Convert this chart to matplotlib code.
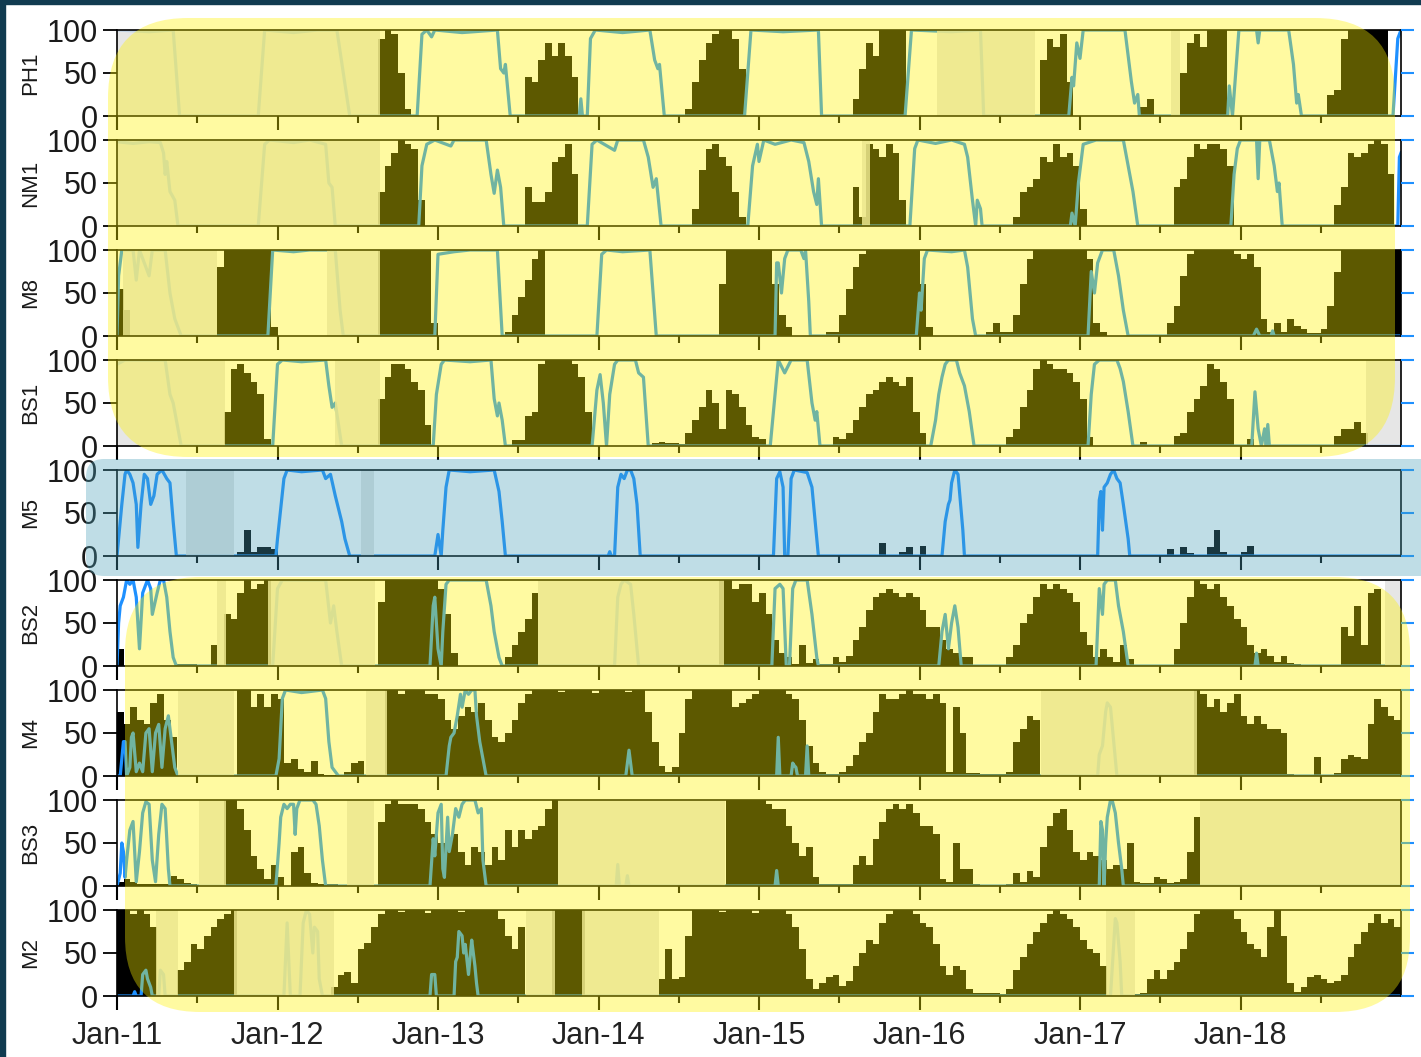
import numpy as np
import matplotlib
matplotlib.use("Agg")
import matplotlib.pyplot as plt
import matplotlib.transforms as mtransforms
from matplotlib.patches import FancyBboxPatch, Rectangle

plt.rcParams['font.family'] = ['Liberation Sans', 'DejaVu Sans']

# ---------------------------------------------------------------- data
# bars: half-month bins starting Jan 2011 (bin i covers 2011 + i/24 .. +1/24),
# stored as (first_bin, values) runs; everything else is zero
# lines: (decimal year, value) breakpoints
# gaps: (start, end) in decimal years
PANELS = ["PH1", "NM1", "M8", "BS1", "M5", "BS2", "M4", "BS3", "M2"]
YEARS = [2011, 2012, 2013, 2014, 2015, 2016, 2017, 2018]
XLABELS = ["Jan-11", "Jan-12", "Jan-13", "Jan-14", "Jan-15", "Jan-16", "Jan-17", "Jan-18"]
YTICKS = [0, 50, 100]

PH1_BARS = [(39, [90, 100, 95, 50, 8]),
            (61, [45, 40, 65, 85, 70, 85, 70, 45]),
            (85, [8, 40, 65, 85, 95, 100, 100, 90, 55]),
            (110, [20, 55, 85, 70, 100, 100, 100, 100]),
            (138, [65, 90, 80, 95, 40]),
            (153, [10, 20]),
            (159, [50, 85, 95, 80, 100, 100, 100]),
            (181, [25, 30, 90, 100, 100, 100, 100, 100, 100])]
PH1_LINE = [(2011.0, 100), (2011.2, 98), (2011.35, 100), (2011.39, 0), (2011.88, 0), (2011.92, 100),
            (2012.1, 97), (2012.25, 100), (2012.37, 100), (2012.41, 50), (2012.45, 0),
            (2012.87, 0), (2012.9, 95), (2012.93, 100), (2012.96, 92), (2012.98, 100), (2013.15, 97),
            (2013.37, 100), (2013.39, 55), (2013.41, 50), (2013.42, 60), (2013.44, 20), (2013.45, 0),
            (2013.88, 0), (2013.89, 20), (2013.9, 0), (2013.93, 0), (2013.95, 90), (2013.98, 100),
            (2014.15, 97), (2014.32, 100), (2014.35, 65), (2014.37, 55), (2014.38, 60), (2014.41, 0),
            (2014.91, 0), (2014.95, 100), (2015.15, 98), (2015.37, 100), (2015.39, 0),
            (2015.91, 0), (2015.95, 100), (2016.2, 98), (2016.38, 100), (2016.4, 0),
            (2016.93, 0), (2016.95, 45), (2016.96, 35), (2016.98, 85), (2017.0, 67), (2017.02, 100),
            (2017.28, 100), (2017.3, 70), (2017.32, 40), (2017.34, 15), (2017.36, 25), (2017.37, 0),
            (2017.92, 0), (2017.93, 35), (2017.95, 0), (2017.97, 50), (2017.99, 100), (2018.1, 100),
            (2018.11, 85), (2018.12, 100), (2018.3, 100), (2018.33, 60), (2018.35, 15), (2018.36, 25),
            (2018.38, 0), (2018.95, 0), (2018.98, 90), (2019.0, 100)]
PH1_GAPS = [(2011.0, 2012.64), (2016.11, 2016.72), (2017.57, 2017.62)]

NM1_BARS = [(39, [40, 70, 85, 100, 95, 90, 30]),
            (61, [45, 28, 28, 40, 75, 80, 95, 60]),
            (86, [20, 65, 90, 95, 80, 70, 40, 10]),
            (110, [45, 10, 95, 90, 80, 95, 85, 30]),
            (134, [10, 40, 45, 55, 80, 75, 95, 80, 85, 70, 20]),
            (158, [45, 55, 80, 95, 90, 95, 95, 90, 70]),
            (182, [25, 45, 85, 80, 85, 95, 100, 95, 60])]
NM1_LINE = [(2011.0, 98), (2011.1, 96), (2011.2, 98), (2011.27, 97), (2011.29, 85), (2011.3, 60),
            (2011.31, 75), (2011.33, 40), (2011.36, 30), (2011.38, 0),
            (2011.88, 0), (2011.92, 95), (2011.95, 100), (2012.1, 97), (2012.2, 100), (2012.3, 95),
            (2012.32, 50), (2012.34, 45), (2012.36, 0),
            (2012.88, 0), (2012.9, 70), (2012.93, 95), (2012.98, 100), (2013.08, 93), (2013.1, 100),
            (2013.3, 100), (2013.33, 60), (2013.35, 38), (2013.37, 65), (2013.39, 45), (2013.41, 0),
            (2013.93, 0), (2013.96, 95), (2013.99, 100), (2014.1, 88), (2014.12, 100), (2014.28, 100),
            (2014.31, 80), (2014.34, 45), (2014.36, 55), (2014.39, 0),
            (2014.93, 0), (2014.96, 70), (2014.99, 95), (2015.0, 75), (2015.03, 100), (2015.1, 95),
            (2015.2, 100), (2015.28, 97), (2015.31, 75), (2015.34, 40), (2015.36, 25), (2015.37, 55),
            (2015.39, 0),
            (2015.94, 0), (2015.97, 90), (2015.99, 100), (2016.1, 96), (2016.2, 100), (2016.28, 95),
            (2016.3, 80), (2016.33, 30), (2016.35, 0), (2016.36, 30), (2016.38, 20), (2016.39, 0),
            (2016.94, 0), (2016.95, 15), (2016.97, 0), (2016.99, 50), (2017.02, 95), (2017.1, 100),
            (2017.27, 100), (2017.3, 70), (2017.33, 40), (2017.36, 0),
            (2017.94, 0), (2017.96, 60), (2017.98, 90), (2018.0, 100), (2018.1, 100), (2018.11, 55),
            (2018.12, 100), (2018.18, 100), (2018.21, 70), (2018.23, 40), (2018.24, 50), (2018.26, 0),
            (2018.98, 0), (2018.99, 80), (2019.0, 85)]
NM1_GAPS = [(2011.0, 2012.64), (2015.64, 2015.69)]

M8_BARS = [(0, [55, 30]),
           (15, [80, 100, 100, 100, 100, 100, 100, 100, 10]),
           (39, [100, 100, 100, 100, 100, 100, 100, 100, 15]),
           (58, [5, 25, 45, 65, 90, 100]),
           (90, [60, 100, 100, 100, 100, 100, 100, 100, 60, 25, 10]),
           (106, [5, 5, 25, 55, 80, 95, 100, 100, 100, 100, 100, 100, 100, 100, 60, 10]),
           (130, [5, 15, 5, 5, 25, 60, 90, 100, 100, 100, 100, 100, 100, 100, 100, 90, 15, 5]),
           (157, [15, 35, 70, 95, 100, 100, 100, 100, 100, 100, 95, 90, 95, 80, 20]),
           (172, [5, 15, 5, 20, 12, 8, 3, 3]),
           (180, [8, 35, 75, 100, 100, 100, 100, 100, 100, 100, 100, 100])]
M8_LINE = [(2011.0, 0), (2011.01, 70), (2011.03, 100), (2011.1, 100), (2011.12, 65), (2011.14, 100),
           (2011.2, 70), (2011.22, 100), (2011.3, 100), (2011.33, 50), (2011.36, 20), (2011.4, 0),
           (2011.94, 0), (2011.97, 100), (2012.1, 98), (2012.2, 100), (2012.36, 100), (2012.39, 30),
           (2012.41, 0),
           (2012.98, 0), (2013.0, 95), (2013.1, 98), (2013.2, 100), (2013.37, 100), (2013.4, 0),
           (2013.99, 0), (2014.02, 95), (2014.05, 100), (2014.15, 98), (2014.32, 100), (2014.34, 50),
           (2014.35, 25), (2014.36, 0),
           (2015.1, 0), (2015.11, 85), (2015.12, 85), (2015.14, 50), (2015.16, 90), (2015.18, 100),
           (2015.26, 100), (2015.28, 90), (2015.29, 100), (2015.31, 40), (2015.32, 0),
           (2015.98, 0), (2016.0, 50), (2016.01, 30), (2016.03, 90), (2016.05, 100), (2016.2, 98),
           (2016.28, 100), (2016.3, 80), (2016.33, 20), (2016.35, 0),
           (2017.05, 0), (2017.07, 75), (2017.09, 50), (2017.11, 85), (2017.14, 100), (2017.21, 100),
           (2017.24, 70), (2017.27, 30), (2017.3, 0),
           (2018.08, 0), (2018.1, 8), (2018.12, 0), (2018.19, 0), (2018.2, 6), (2018.21, 0),
           (2019.0, 0)]
M8_GAPS = [(2011.04, 2011.62), (2012.31, 2012.64)]

BS1_BARS = [(16, [40, 90, 95, 85, 75, 60, 8]),
            (39, [55, 80, 95, 95, 90, 75, 65, 25]),
            (59, [7, 7, 35, 40, 95, 100, 100, 100, 100, 95, 80, 40]),
            (80, [3, 5, 3, 3, 2, 15, 30, 45, 65, 50, 20, 65, 60, 45, 25, 10, 8]),
            (107, [10, 8, 15, 30, 45, 60, 65, 75, 80, 75, 70, 80, 40, 15]),
            (133, [10, 20, 45, 65, 90, 100, 95, 90, 90, 85, 75, 55, 10]),
            (153, [5, 0, 0, 1, 0, 12, 15, 40, 55, 70, 95, 90, 75, 55]),
            (169, [8]),
            (182, [12, 20, 20, 28, 15])]
BS1_LINE = [(2011.0, 95), (2011.05, 100), (2011.3, 100), (2011.33, 60), (2011.35, 50), (2011.37, 30),
            (2011.4, 0),
            (2011.97, 0), (2012.0, 95), (2012.03, 100), (2012.15, 98), (2012.3, 100), (2012.32, 70),
            (2012.34, 45), (2012.36, 50), (2012.38, 25), (2012.4, 0),
            (2012.97, 0), (2012.99, 60), (2013.02, 95), (2013.04, 100), (2013.2, 98), (2013.33, 100),
            (2013.35, 55), (2013.37, 35), (2013.38, 50), (2013.4, 30), (2013.42, 0),
            (2013.96, 0), (2013.99, 65), (2014.01, 83), (2014.03, 50), (2014.05, 0), (2014.07, 60),
            (2014.1, 95), (2014.12, 100), (2014.23, 100), (2014.25, 85), (2014.28, 80), (2014.31, 0),
            (2015.07, 0), (2015.1, 60), (2015.12, 100), (2015.16, 85), (2015.2, 100), (2015.3, 100),
            (2015.33, 50), (2015.35, 30), (2015.36, 40), (2015.38, 0),
            (2016.07, 0), (2016.1, 30), (2016.12, 60), (2016.14, 80), (2016.16, 95), (2016.18, 100),
            (2016.23, 100), (2016.25, 85), (2016.28, 70), (2016.31, 40), (2016.34, 0),
            (2017.05, 0), (2017.07, 60), (2017.09, 95), (2017.12, 100), (2017.23, 100), (2017.25, 90),
            (2017.27, 75), (2017.3, 40), (2017.33, 0),
            (2018.07, 0), (2018.09, 63), (2018.11, 20), (2018.13, 0), (2018.15, 20), (2018.16, 0),
            (2018.17, 25), (2018.18, 0), (2019.0, 0)]
BS1_GAPS = [(2011.0, 2011.67), (2012.36, 2012.64), (2018.78, 2019.0)]

M5_BARS = [(18, [5, 30, 5, 10, 10, 8]),
           (114, [15, 0, 0, 5, 10, 0, 12]),
           (157, [8, 0, 10, 3, 0, 0, 10, 30, 5, 0, 0, 5, 12])]
M5_LINE = [(2011.0, 0), (2011.01, 20), (2011.03, 60), (2011.05, 95), (2011.06, 100), (2011.08, 95),
           (2011.1, 85), (2011.12, 60), (2011.13, 10), (2011.15, 60), (2011.17, 95), (2011.19, 90),
           (2011.21, 60), (2011.23, 70), (2011.25, 95), (2011.28, 100), (2011.31, 90), (2011.33, 85),
           (2011.35, 40), (2011.37, 0),
           (2011.99, 0), (2012.0, 20), (2012.02, 55), (2012.04, 90), (2012.06, 100), (2012.15, 98),
           (2012.28, 100), (2012.3, 90), (2012.33, 95), (2012.36, 70), (2012.4, 40), (2012.42, 20),
           (2012.45, 0),
           (2012.98, 0), (2013.0, 25), (2013.02, 0), (2013.03, 30), (2013.05, 80), (2013.07, 100),
           (2013.2, 98), (2013.35, 100), (2013.38, 75), (2013.4, 40), (2013.42, 0),
           (2014.06, 0), (2014.07, 5), (2014.08, 0), (2014.1, 0), (2014.12, 80), (2014.14, 95),
           (2014.16, 90), (2014.18, 100), (2014.2, 100), (2014.22, 90), (2014.24, 60), (2014.26, 0),
           (2015.09, 0), (2015.11, 90), (2015.13, 98), (2015.15, 80), (2015.16, 0), (2015.18, 0),
           (2015.19, 40), (2015.2, 90), (2015.22, 100), (2015.3, 97), (2015.33, 80), (2015.36, 20),
           (2015.37, 0),
           (2016.14, 0), (2016.16, 40), (2016.18, 60), (2016.19, 65), (2016.2, 85), (2016.22, 100),
           (2016.24, 95), (2016.27, 30), (2016.28, 0),
           (2017.11, 0), (2017.12, 65), (2017.13, 75), (2017.14, 30), (2017.15, 80), (2017.17, 85),
           (2017.19, 95), (2017.21, 100), (2017.23, 90), (2017.25, 85), (2017.27, 60), (2017.3, 20),
           (2017.31, 0), (2019.0, 0)]
M5_GAPS = [(2011.43, 2011.73), (2012.52, 2012.6)]

BS2_BARS = [(0, [20]),
            (9, [2, 2, 2, 0, 0, 25, 0, 60, 55, 85, 100, 90, 95, 100]),
            (39, [75, 100, 100, 100, 100, 100, 100, 100, 100, 90, 60, 15]),
            (58, [10, 25, 40, 55, 85]),
            (90, [100, 100, 90, 95, 95, 75]),
            (96, [85, 60, 30, 15, 10, 2, 25, 3, 8, 2, 2, 10, 5, 12, 30, 45]),
            (112, [65, 80, 85, 90, 85, 80, 85, 80, 65, 45, 45, 30, 20, 15, 10, 10]),
            (133, [10, 25, 50, 60, 80, 95, 90, 95, 90, 85, 75, 40, 25, 10, 20, 10, 5, 25, 8]),
            (158, [20, 50, 80, 100, 95, 90, 95, 80, 70, 55, 45, 25, 15, 20, 12, 5, 12, 3, 2]),
            (183, [45, 35, 70, 25, 85, 90])]
BS2_LINE = [(2011.0, 0), (2011.01, 50), (2011.02, 70), (2011.04, 80), (2011.06, 100), (2011.08, 95),
            (2011.1, 100), (2011.12, 80), (2011.14, 20), (2011.16, 85), (2011.19, 100), (2011.21, 90),
            (2011.22, 60), (2011.25, 85), (2011.27, 100), (2011.29, 100), (2011.31, 80), (2011.33, 40),
            (2011.35, 10), (2011.37, 0),
            (2011.97, 0), (2012.0, 90), (2012.03, 100), (2012.3, 100), (2012.33, 50), (2012.35, 70),
            (2012.37, 40), (2012.4, 0),
            (2012.95, 0), (2012.97, 70), (2012.98, 80), (2013.0, 20), (2013.02, 0), (2013.03, 40),
            (2013.05, 95), (2013.07, 100), (2013.3, 100), (2013.33, 70), (2013.35, 40), (2013.38, 10),
            (2013.4, 0),
            (2014.1, 0), (2014.12, 80), (2014.14, 95), (2014.16, 100), (2014.2, 95), (2014.22, 60),
            (2014.25, 0),
            (2015.08, 0), (2015.1, 90), (2015.13, 95), (2015.15, 90), (2015.17, 0), (2015.19, 0),
            (2015.21, 90), (2015.23, 100), (2015.3, 100), (2015.33, 60), (2015.36, 10), (2015.37, 0),
            (2016.12, 0), (2016.14, 40), (2016.16, 60), (2016.18, 20), (2016.2, 50), (2016.22, 70),
            (2016.24, 45), (2016.26, 0),
            (2017.1, 0), (2017.12, 90), (2017.14, 60), (2017.15, 95), (2017.17, 100), (2017.22, 100),
            (2017.24, 70), (2017.27, 40), (2017.3, 0),
            (2018.09, 0), (2018.1, 15), (2018.11, 0), (2019.0, 0)]
BS2_GAPS = [(2011.62, 2011.68), (2011.94, 2012.61), (2013.62, 2014.78), (2018.9, 2019.0)]

M4_BARS = [(0, [75, 60, 80, 65, 60, 85, 95, 65, 45]),
           (18, [100, 100, 80, 95, 80, 95, 90, 15, 20, 8, 5, 18, 2, 1, 1, 1, 5, 15, 18]),
           (40, [100, 100, 95, 100, 100, 100, 95, 95, 90, 65, 55, 70, 80, 75, 85, 65, 45, 40, 50,
                 65, 85, 95, 100, 100, 100]),
           (65, [100, 98, 100, 100, 100, 100, 97, 100, 100, 100, 100, 98, 100, 100]),
           (79, [75, 40, 12, 5, 10, 50, 90]),
           (86, [100, 100, 100, 100, 100, 100, 80, 85, 90, 95]),
           (96, [100, 100, 100, 100, 95, 90, 65, 35, 15, 5, 2, 2, 5, 12, 25, 40, 50, 75, 95, 90]),
           (116, [90, 95, 100, 95, 95, 90, 95, 85, 5, 80, 50, 3, 3, 2, 2, 2, 2, 5, 40, 55, 70, 65]),
           (161, [100, 95, 80, 90, 75, 85, 95, 70, 60, 70, 60, 55, 55, 50, 2, 1, 1, 1, 22, 1, 1, 3,
                  20, 25, 22, 20, 60, 90, 80, 70, 65])]
M4_LINE = [(2011.0, 0), (2011.02, 0), (2011.04, 40), (2011.05, 40), (2011.06, 0), (2011.08, 10),
           (2011.09, 45), (2011.1, 50), (2011.12, 5), (2011.14, 15), (2011.16, 5), (2011.18, 50),
           (2011.2, 55), (2011.22, 5), (2011.24, 50), (2011.26, 60), (2011.28, 10), (2011.3, 55),
           (2011.32, 70), (2011.34, 40), (2011.36, 10), (2011.38, 0),
           (2011.99, 0), (2012.01, 20), (2012.03, 90), (2012.05, 100), (2012.15, 97), (2012.28, 100),
           (2012.3, 90), (2012.32, 40), (2012.34, 10), (2012.36, 5), (2012.38, 0),
           (2013.05, 0), (2013.07, 35), (2013.08, 45), (2013.1, 50), (2013.12, 70), (2013.14, 95),
           (2013.15, 80), (2013.17, 100), (2013.19, 95), (2013.21, 100), (2013.23, 100), (2013.24, 70),
           (2013.26, 40), (2013.28, 20), (2013.3, 0),
           (2014.17, 0), (2014.19, 30), (2014.21, 0),
           (2015.11, 0), (2015.12, 45), (2015.13, 0), (2015.2, 0), (2015.21, 15), (2015.22, 12),
           (2015.23, 10), (2015.24, 0), (2015.29, 0), (2015.3, 35), (2015.31, 0),
           (2017.11, 0), (2017.12, 25), (2017.14, 35), (2017.16, 75), (2017.17, 85), (2017.19, 80),
           (2017.21, 40), (2017.23, 0), (2019.0, 0)]
M4_GAPS = [(2011.38, 2011.73), (2012.55, 2012.68), (2016.76, 2017.73)]

BS3_BARS = [(0, [5, 8, 5, 2, 2, 2, 2, 2, 12, 8, 3, 2, 1]),
            (16, [100, 100, 90, 65, 35, 20, 8, 25, 10]),
            (26, [40, 45, 15, 3, 2, 2, 2]),
            (39, [75, 95, 100, 95, 95, 95, 90, 75, 60, 50, 45, 60, 40, 25, 45, 40, 25, 45, 30, 65,
                  45, 65, 55, 65, 70, 90, 100]),
            (91, [100, 100, 100, 100, 100, 100, 95, 90, 90, 70, 50, 35, 45, 10, 2, 2, 2, 2, 2]),
            (110, [25, 35, 25, 55, 75, 90, 95, 90, 95, 85, 70, 70, 60, 8, 5, 50, 20, 20, 2, 1, 1, 1, 1]),
            (133, [2, 15, 5, 18, 10, 45, 70, 85, 90, 65, 40, 30, 40, 35, 30, 20, 25, 20, 50, 5, 4,
                   4, 10, 8, 3, 5, 8, 40, 80])]
BS3_LINE = [(2011.0, 0), (2011.02, 15), (2011.03, 50), (2011.04, 40), (2011.05, 10), (2011.06, 30),
            (2011.08, 65), (2011.1, 75), (2011.12, 5), (2011.14, 40), (2011.16, 85), (2011.18, 98),
            (2011.2, 95), (2011.22, 30), (2011.24, 5), (2011.26, 60), (2011.28, 95), (2011.3, 90),
            (2011.32, 20), (2011.33, 0),
            (2011.99, 0), (2012.01, 50), (2012.02, 80), (2012.04, 95), (2012.06, 90), (2012.08, 95),
            (2012.1, 95), (2012.11, 60), (2012.12, 90), (2012.14, 100), (2012.22, 100), (2012.24, 95),
            (2012.26, 70), (2012.28, 30), (2012.3, 0),
            (2012.95, 0), (2012.97, 55), (2012.98, 35), (2013.0, 85), (2013.02, 95), (2013.03, 20),
            (2013.04, 10), (2013.06, 80), (2013.07, 40), (2013.09, 60), (2013.11, 90), (2013.13, 80),
            (2013.15, 95), (2013.17, 100), (2013.23, 100), (2013.25, 85), (2013.27, 90), (2013.28, 30),
            (2013.3, 0),
            (2014.11, 0), (2014.12, 25), (2014.13, 0), (2014.17, 0), (2014.18, 12), (2014.19, 0),
            (2015.1, 0), (2015.11, 18), (2015.12, 0),
            (2017.12, 0), (2017.13, 75), (2017.14, 65), (2017.15, 0), (2017.16, 50), (2017.17, 80),
            (2017.19, 100), (2017.2, 100), (2017.22, 85), (2017.24, 50), (2017.26, 20), (2017.27, 0),
            (2019.0, 0)]
BS3_GAPS = [(2011.51, 2011.68), (2012.43, 2012.6), (2013.75, 2014.79), (2017.75, 2019.0)]

M2_BARS = [(0, [100, 100, 95, 100, 95, 80]),
           (9, [30, 40, 60, 55, 70, 80, 90, 95, 100]),
           (32, [10, 25, 28, 15, 55, 62, 80, 95]),
           (40, [100, 100, 98, 100, 100, 100, 97, 100, 100, 100, 100, 98, 100, 100, 100, 100, 100]),
           (57, [90, 70, 55, 80]),
           (65, [100, 100, 100, 100, 100]),
           (81, [20, 55, 20, 22, 70]),
           (86, [100, 100, 100, 100, 98, 100, 100, 100, 100, 97, 100, 100, 100, 100]),
           (100, [95, 80, 55, 20, 8, 15, 22, 25, 12, 18, 35, 50, 65, 60, 85, 95, 100, 100, 100, 95,
                  85, 80, 60, 35, 25, 35, 30, 8, 3, 4, 3, 3, 2]),
           (133, [8, 30, 45, 60, 75, 85, 95, 100, 95, 90, 80, 65, 55, 50, 35]),
           (152, [2, 3, 20, 30, 20, 30, 40, 55, 75, 95, 100, 100, 100, 100, 100, 90, 75, 60, 55, 45,
                  80, 100, 70, 15, 5, 10, 22, 25, 20, 15, 18, 25, 45, 60, 75, 85, 95, 85, 90, 80])]
M2_LINE = [(2011.0, 0), (2011.1, 0), (2011.11, 5), (2011.12, 0), (2011.15, 0), (2011.16, 25),
           (2011.18, 30), (2011.19, 20), (2011.21, 10), (2011.22, 0), (2011.26, 0), (2011.27, 30),
           (2011.29, 25), (2011.3, 0),
           (2012.04, 0), (2012.06, 85), (2012.08, 0), (2012.14, 0), (2012.16, 85), (2012.18, 100),
           (2012.2, 95), (2012.22, 50), (2012.23, 80), (2012.25, 75), (2012.26, 20), (2012.28, 0),
           (2012.95, 0), (2012.96, 25), (2012.98, 25), (2012.99, 0), (2013.1, 0), (2013.11, 40),
           (2013.12, 45), (2013.13, 75), (2013.15, 70), (2013.16, 50), (2013.17, 60), (2013.19, 25),
           (2013.2, 45), (2013.21, 65), (2013.22, 50), (2013.23, 35), (2013.24, 15), (2013.25, 0),
           (2017.19, 0), (2017.21, 60), (2017.22, 90), (2017.23, 85), (2017.25, 40), (2017.26, 0),
           (2019.0, 0)]
M2_GAPS = [(2011.24, 2011.38), (2011.73, 2012.35), (2013.55, 2013.73), (2013.9, 2014.38),
           (2017.16, 2017.34)]

BARS = [PH1_BARS, NM1_BARS, M8_BARS, BS1_BARS, M5_BARS, BS2_BARS, M4_BARS, BS3_BARS, M2_BARS]
LINES = [PH1_LINE, NM1_LINE, M8_LINE, BS1_LINE, M5_LINE, BS2_LINE, M4_LINE, BS3_LINE, M2_LINE]
GAPS = [PH1_GAPS, NM1_GAPS, M8_GAPS, BS1_GAPS, M5_GAPS, BS2_GAPS, M4_GAPS, BS3_GAPS, M2_GAPS]

N_BINS = 192


def expand(runs):
    vals = np.zeros(N_BINS)
    for start, seq in runs:
        seq = seq[:N_BINS - start]
        vals[start:start + len(seq)] = seq
    return vals


# ---------------------------------------------------------------- figure
W, H = 1421, 1057
fig = plt.figure(figsize=(W / 100, H / 100), dpi=100)
px = mtransforms.Affine2D().scale(1 / W, 1 / H) + fig.transFigure

bin_left = 2011 + np.arange(N_BINS) / 24
BLUE = '#1e90ff'

for k, name in enumerate(PANELS):
    top = 30 + 110 * k
    ax = fig.add_axes([117 / W, 1 - (top + 86) / H, 1284 / W, 86 / H])

    ax.bar(bin_left, expand(BARS[k]), width=1 / 24, align='edge', color='black',
           linewidth=0, zorder=1.5)
    lx, ly = zip(*LINES[k])
    ax.plot(lx, ly, color=BLUE, lw=2.3, zorder=2, solid_joinstyle='round')
    for a, b in GAPS[k]:
        ax.axvspan(a, b, color='#e2e2e2', alpha=0.85, lw=0, zorder=2.3)

    ax.set_xlim(2011, 2019)
    ax.set_ylim(0, 100)
    ax.set_yticks(YTICKS)
    ax.set_xticks(YEARS)
    ax.set_xticks([y + 0.5 for y in YEARS], minor=True)
    ax.tick_params(axis='y', length=10, width=1.3, pad=4, labelsize=22, labelcolor='#1a1a1a')
    ax.tick_params(axis='x', which='major', length=10, width=1.5, pad=8)
    ax.tick_params(axis='x', which='minor', length=5, width=1.5)
    if k == len(PANELS) - 1:
        ax.set_xticklabels(XLABELS, fontsize=22, color='#222222')
    else:
        ax.tick_params(axis='x', labelbottom=False)
    for sp in ax.spines.values():
        sp.set_linewidth(1.2)
    ax.set_ylabel(name, fontsize=16, color='#1a1a1a')
    ax.yaxis.set_label_coords(-0.059, 0.5)

    tw = ax.twinx()
    tw.set_ylim(0, 100)
    tw.set_yticks(YTICKS)
    tw.tick_params(axis='y', colors=BLUE, length=9, width=1.5, labelright=False)
    for sp in tw.spines.values():
        sp.set_visible(False)

# highlight boxes laid over the panels (pixel units, y up)
boxes = [
    (108, H - 457, 1395 - 108, 457 - 18, 80, '#fff200', 0.37),
    (86, H - 576, 1440 - 86, 576 - 459, 18, '#48a0b8', 0.35),
    (125, H - 1012, 1410 - 125, 1012 - 577, 75, '#fff200', 0.37),
]
for x0, y0, w, h, r, c, a in boxes:
    p = FancyBboxPatch((x0, y0), w, h, boxstyle=f"round,pad=0,rounding_size={r}",
                       transform=px, facecolor=c, alpha=a, edgecolor='none', zorder=5)
    fig.add_artist(p)

# dark frame strips on the left and top
fig.add_artist(Rectangle((0, 0), 5, H, transform=px, color='#113b50', zorder=6))
fig.add_artist(Rectangle((0, H - 4), W, 4, transform=px, color='#113b50', zorder=6))

fig.savefig('out.png', dpi=100)
